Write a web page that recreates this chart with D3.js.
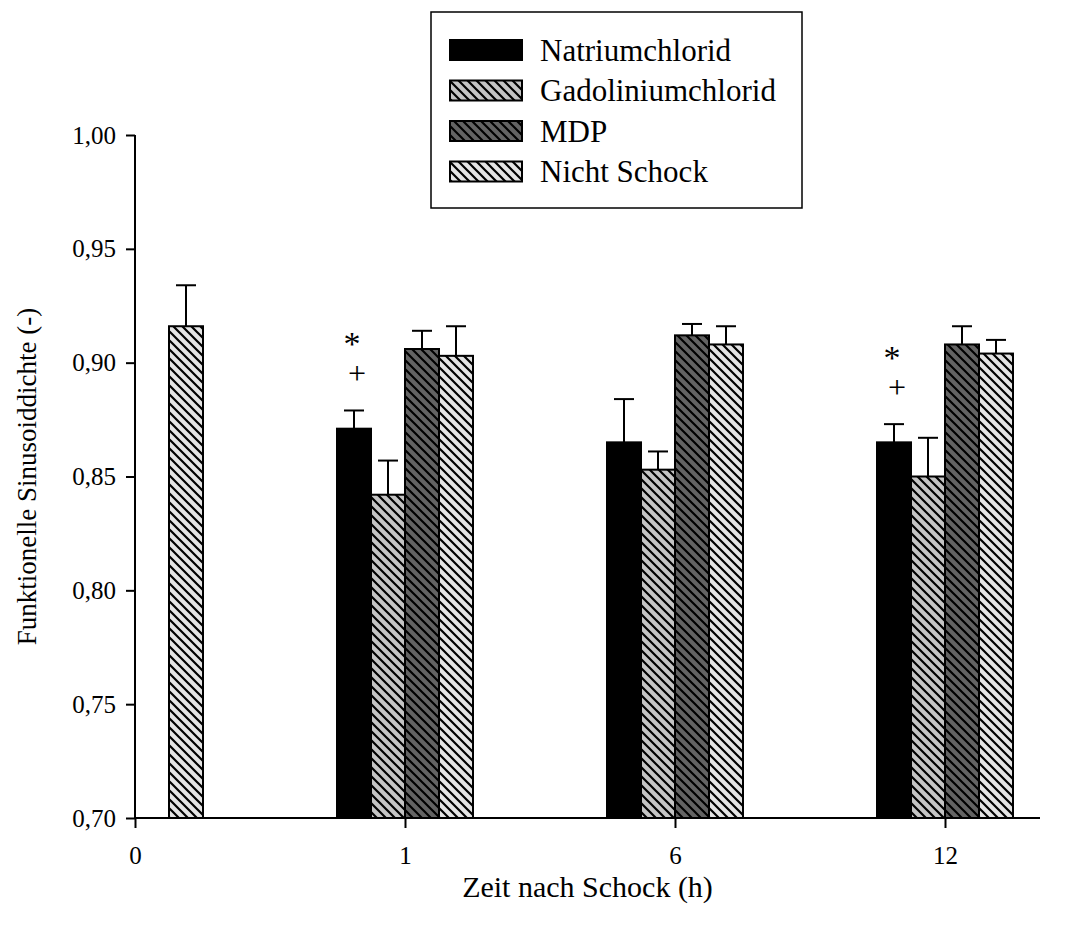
<!DOCTYPE html>
<html>
<head>
<meta charset="utf-8">
<script src="https://cdn.jsdelivr.net/npm/d3@7"></script>
<style>
  body { margin: 0; background: #fff; }
  text { font-family: "Liberation Serif", "Times New Roman", serif; fill: #000; }
</style>
</head>
<body>
<div id="chart"></div>
<script>
// time points (h) and treatment groups
const times = ["0", "1", "6", "12"];
const groups = ["Natriumchlorid", "Gadoliniumchlorid", "MDP", "Nicht Schock"];

// means per time point (null = not measured)
const natrium = [null, 0.871, 0.865, 0.865];
const gado = [null, 0.842, 0.853, 0.850];
const mdp = [null, 0.906, 0.912, 0.908];
const nicht = [0.916, 0.903, 0.908, 0.904];

// upper error (SEM)
const natriumErr = [null, 0.008, 0.019, 0.008];
const gadoErr = [null, 0.015, 0.008, 0.017];
const mdpErr = [null, 0.008, 0.005, 0.008];
const nichtErr = [0.018, 0.013, 0.008, 0.006];

const yTicks = [0.70, 0.75, 0.80, 0.85, 0.90, 0.95, 1.00];

// significance marks above Natriumchlorid
const markTimes = ["1", "12"];
const markSymbols = ["*", "+"];

const fills = ["#000000", "#c4c4c4", "#636363", "#e4e4e4"];

const W = 1071, H = 927;
const margin = {left: 135, top: 135};
const plotW = 905, plotH = 683;

const svg = d3.select("#chart").append("svg")
  .attr("width", W)
  .attr("height", H);

// hatch patterns
const defs = svg.append("defs");
fills.forEach((c, i) => {
  if (i === 0) return;
  const p = defs.append("pattern")
    .attr("id", "hatch" + i)
    .attr("patternUnits", "userSpaceOnUse")
    .attr("width", 9)
    .attr("height", 9);
  p.append("rect").attr("width", 9).attr("height", 9).attr("fill", c);
  p.append("path")
    .attr("d", "M-1,-1 L10,10 M-3,6 L3,12 M6,-3 L12,3")
    .attr("stroke", "#000")
    .attr("stroke-width", 2.2);
});
const fillFor = i => i === 0 ? fills[0] : "url(#hatch" + i + ")";

const g = svg.append("g")
  .attr("transform", "translate(" + margin.left + "," + margin.top + ")");

const x = d3.scalePoint()
  .domain(times)
  .range([0, 810]);

const xs = d3.scaleBand()
  .domain(groups)
  .range([-68, 68]);

const y = d3.scaleLinear()
  .domain([0.70, 1.00])
  .range([plotH, 0]);

const fmt = d3.formatLocale({decimal: ",", thousands: ".", grouping: [3], currency: ["", ""]}).format(".2f");

// rows for bars
const means = [natrium, gado, mdp, nicht];
const errs = [natriumErr, gadoErr, mdpErr, nichtErr];
const rows = [];
groups.forEach((name, gi) => {
  times.forEach((t, ti) => {
    if (means[gi][ti] == null) return;
    rows.push({group: name, gi: gi, time: t, value: means[gi][ti], err: errs[gi][ti]});
  });
});

// error bars (upper only)
const eb = g.selectAll(".err")
  .data(rows)
  .enter()
  .append("g")
  .attr("class", "err");
eb.append("line")
  .attr("x1", d => x(d.time) + xs(d.group) + xs.bandwidth() / 2)
  .attr("x2", d => x(d.time) + xs(d.group) + xs.bandwidth() / 2)
  .attr("y1", d => y(d.value))
  .attr("y2", d => y(d.value + d.err))
  .attr("stroke", "#000")
  .attr("stroke-width", 2);
eb.append("line")
  .attr("x1", d => x(d.time) + xs(d.group) + xs.bandwidth() / 2 - 10)
  .attr("x2", d => x(d.time) + xs(d.group) + xs.bandwidth() / 2 + 10)
  .attr("y1", d => y(d.value + d.err))
  .attr("y2", d => y(d.value + d.err))
  .attr("stroke", "#000")
  .attr("stroke-width", 2);

// bars
g.selectAll(".bar")
  .data(rows)
  .enter()
  .append("rect")
  .attr("class", "bar")
  .attr("x", d => x(d.time) + xs(d.group))
  .attr("y", d => y(d.value))
  .attr("width", xs.bandwidth())
  .attr("height", d => plotH - y(d.value))
  .attr("fill", d => fillFor(d.gi))
  .attr("stroke", "#000")
  .attr("stroke-width", 2);

// significance marks
markTimes.forEach(t => {
  const ti = times.indexOf(t);
  const cx = x(t) + xs(groups[0]) + xs.bandwidth() / 2;
  const top = y(natrium[ti] + natriumErr[ti]);
  g.append("text")
    .attr("x", cx - 2)
    .attr("y", top - 55)
    .attr("text-anchor", "middle")
    .style("font-size", "34px")
    .text(markSymbols[0]);
  g.append("text")
    .attr("x", cx + 3)
    .attr("y", top - 26)
    .attr("text-anchor", "middle")
    .style("font-size", "32px")
    .text(markSymbols[1]);
});

// axes
const yAxis = g.append("g")
  .call(d3.axisLeft(y).tickValues(yTicks).tickFormat(fmt).tickSize(9).tickPadding(10).tickSizeOuter(0));
const xAxis = g.append("g")
  .attr("transform", "translate(0," + plotH + ")")
  .call(d3.axisBottom(x).tickSize(10).tickPadding(18).tickSizeOuter(0));
[yAxis, xAxis].forEach(a => {
  a.select(".domain").remove();
  a.selectAll("line").attr("stroke", "#000").attr("stroke-width", 2);
  a.selectAll("text")
    .style("font-family", "'Liberation Serif', 'Times New Roman', serif")
    .style("font-size", "25px")
    .attr("fill", "#000");
});
g.append("line")
  .attr("x1", 0).attr("x2", 0)
  .attr("y1", 0).attr("y2", plotH + 1)
  .attr("stroke", "#000").attr("stroke-width", 2);
g.append("line")
  .attr("x1", -1).attr("x2", plotW)
  .attr("y1", plotH).attr("y2", plotH)
  .attr("stroke", "#000").attr("stroke-width", 2);

// axis titles
svg.append("text")
  .attr("x", margin.left + plotW / 2)
  .attr("y", 897)
  .attr("text-anchor", "middle")
  .style("font-size", "30px")
  .text("Zeit nach Schock (h)");
svg.append("text")
  .attr("transform", "translate(36," + (margin.top + plotH / 2) + ") rotate(-90)")
  .attr("text-anchor", "middle")
  .style("font-size", "27px")
  .text("Funktionelle Sinusoiddichte (-)");

// legend
const legend = svg.append("g");
legend.append("rect")
  .attr("x", 431).attr("y", 12)
  .attr("width", 371).attr("height", 196)
  .attr("fill", "#fff")
  .attr("stroke", "#000")
  .attr("stroke-width", 1.5);
groups.forEach((name, i) => {
  const ly = 40 + i * 40.5;
  legend.append("rect")
    .attr("x", 450).attr("y", ly)
    .attr("width", 72).attr("height", 20)
    .attr("fill", fillFor(i))
    .attr("stroke", "#000")
    .attr("stroke-width", 2);
  legend.append("text")
    .attr("x", 540).attr("y", ly + 20.5)
    .style("font-size", "31px")
    .text(name);
});
</script>
</body>
</html>
